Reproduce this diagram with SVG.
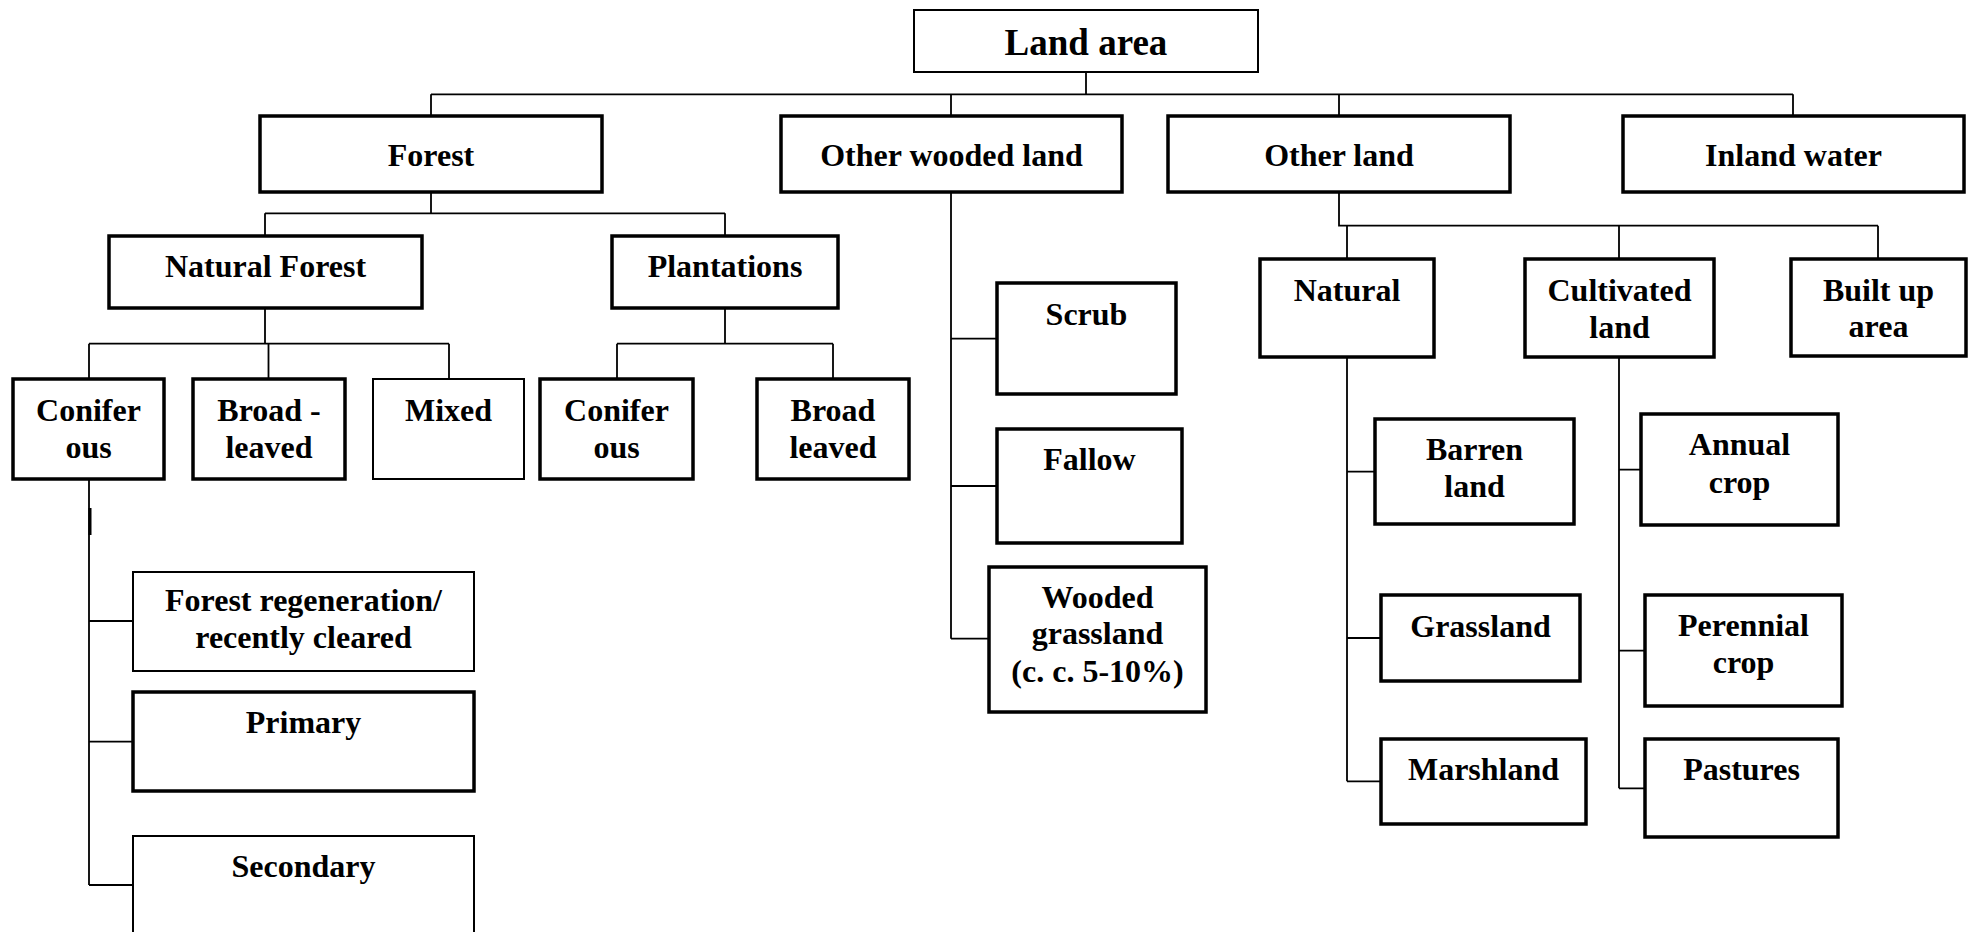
<svg xmlns="http://www.w3.org/2000/svg" width="1972" height="932" viewBox="0 0 1972 932">
<style>
.box{fill:#fff;stroke:#000;stroke-width:3.5}
.thin{stroke-width:2}
.t{font-family:"Liberation Serif","Times New Roman",serif;font-weight:bold;font-size:32px;fill:#000;text-anchor:middle}
.big{font-size:37px}
.c{fill:none;stroke:#000;stroke-width:1.8}
</style>
<rect width="1972" height="932" fill="#fff"/>
<g id="connectors">
<path class="c" d="M1086 72V94.3M431 94.3H1793M431 94.3V116M951 94.3V116M1339 94.3V116M1793 94.3V116"/>
<path class="c" d="M431 192V213.3M265 213.3H725M265 213.3V236M725 213.3V236"/>
<path class="c" d="M265 308V343.7M89 343.7H449M89 343.7V379M268.5 343.7V379M449 343.7V379"/>
<path class="c" d="M725 308V343.7M617 343.7H833M617 343.7V379M833 343.7V379"/>
<path class="c" d="M89 479V885M89 621H133M89 741.7H133M89 885H133"/>
<path d="M90 508V535" stroke="#000" stroke-width="3" fill="none"/>
<path class="c" d="M951 192V638.7M951 338.7H997M951 486H997M951 638.7H989"/>
<path class="c" d="M1339 192V225.7H1878M1347 225.7V259M1619 225.7V259M1878 225.7V259"/>
<path class="c" d="M1347 357V781.3M1347 471.7H1375M1347 638H1381M1347 781.3H1381"/>
<path class="c" d="M1619 357V788.3M1619 469.7H1641M1619 650.7H1645M1619 788.3H1645"/>
</g>
<g id="land-area"><rect class="box thin" x="914" y="10" width="344" height="62"/><text class="t big" x="1086" y="55">Land area</text></g>
<g id="forest"><rect class="box" x="260" y="116" width="342" height="76"/><text class="t" x="431" y="165.7">Forest</text></g>
<g id="other-wooded-land"><rect class="box" x="781" y="116" width="341" height="76"/><text class="t" x="951.5" y="165.7">Other wooded land</text></g>
<g id="other-land"><rect class="box" x="1168" y="116" width="342" height="76"/><text class="t" x="1339" y="165.7">Other land</text></g>
<g id="inland-water"><rect class="box" x="1623" y="116" width="341" height="76"/><text class="t" x="1793.5" y="165.7">Inland water</text></g>
<g id="natural-forest"><rect class="box" x="109" y="236" width="313" height="72"/><text class="t" x="265.5" y="277">Natural Forest</text></g>
<g id="plantations"><rect class="box" x="612" y="236" width="226" height="72"/><text class="t" x="725" y="277">Plantations</text></g>
<g id="coniferous-1"><rect class="box" x="13" y="379" width="151" height="100"/><text class="t" x="88.5" y="420.7">Conifer</text><text class="t" x="88.5" y="458.3">ous</text></g>
<g id="broad-leaved-1"><rect class="box" x="193" y="379" width="152" height="100"/><text class="t" x="269" y="420.7">Broad -</text><text class="t" x="269" y="458.3">leaved</text></g>
<g id="mixed"><rect class="box thin" x="373" y="379" width="151" height="100"/><text class="t" x="448.5" y="420.7">Mixed</text></g>
<g id="coniferous-2"><rect class="box" x="540" y="379" width="153" height="100"/><text class="t" x="616.5" y="420.7">Conifer</text><text class="t" x="616.5" y="458.3">ous</text></g>
<g id="broad-leaved-2"><rect class="box" x="757" y="379" width="152" height="100"/><text class="t" x="833" y="420.7">Broad</text><text class="t" x="833" y="458.3">leaved</text></g>
<g id="scrub"><rect class="box" x="997" y="283" width="179" height="111"/><text class="t" x="1086.5" y="325">Scrub</text></g>
<g id="fallow"><rect class="box" x="997" y="429" width="185" height="114"/><text class="t" x="1089.5" y="470">Fallow</text></g>
<g id="wooded-grassland"><rect class="box" x="989" y="567" width="217" height="145"/><text class="t" x="1097.5" y="607.7">Wooded</text><text class="t" x="1097.5" y="644.3">grassland</text><text class="t" x="1097.5" y="681.7">(c. c. 5-10%)</text></g>
<g id="natural"><rect class="box" x="1260" y="259" width="174" height="98"/><text class="t" x="1347" y="300.7">Natural</text></g>
<g id="cultivated-land"><rect class="box" x="1525" y="259" width="189" height="98"/><text class="t" x="1619.5" y="300.7">Cultivated</text><text class="t" x="1619.5" y="337.7">land</text></g>
<g id="built-up-area"><rect class="box" x="1791" y="259" width="175" height="97"/><text class="t" x="1878.5" y="300.7">Built up</text><text class="t" x="1878.5" y="336.7">area</text></g>
<g id="barren-land"><rect class="box" x="1375" y="419" width="199" height="105"/><text class="t" x="1474.5" y="460">Barren</text><text class="t" x="1474.5" y="496.7">land</text></g>
<g id="grassland"><rect class="box" x="1381" y="595" width="199" height="86"/><text class="t" x="1480.5" y="637.3">Grassland</text></g>
<g id="marshland"><rect class="box" x="1381" y="739" width="205" height="85"/><text class="t" x="1483.5" y="780">Marshland</text></g>
<g id="annual-crop"><rect class="box" x="1641" y="414" width="197" height="111"/><text class="t" x="1739.5" y="455">Annual</text><text class="t" x="1739.5" y="493.3">crop</text></g>
<g id="perennial-crop"><rect class="box" x="1645" y="595" width="197" height="111"/><text class="t" x="1743.5" y="635.7">Perennial</text><text class="t" x="1743.5" y="673.3">crop</text></g>
<g id="pastures"><rect class="box" x="1645" y="739" width="193" height="98"/><text class="t" x="1741.5" y="780">Pastures</text></g>
<g id="forest-regeneration"><rect class="box thin" x="133" y="572" width="341" height="99"/><text class="t" x="303.5" y="610.7">Forest regeneration/</text><text class="t" x="303.5" y="647.7">recently cleared</text></g>
<g id="primary"><rect class="box" x="133" y="692" width="341" height="99"/><text class="t" x="303.5" y="733.3">Primary</text></g>
<g id="secondary"><rect class="box thin" x="133" y="836" width="341" height="110"/><text class="t" x="303.5" y="876.7">Secondary</text></g>
</svg>
